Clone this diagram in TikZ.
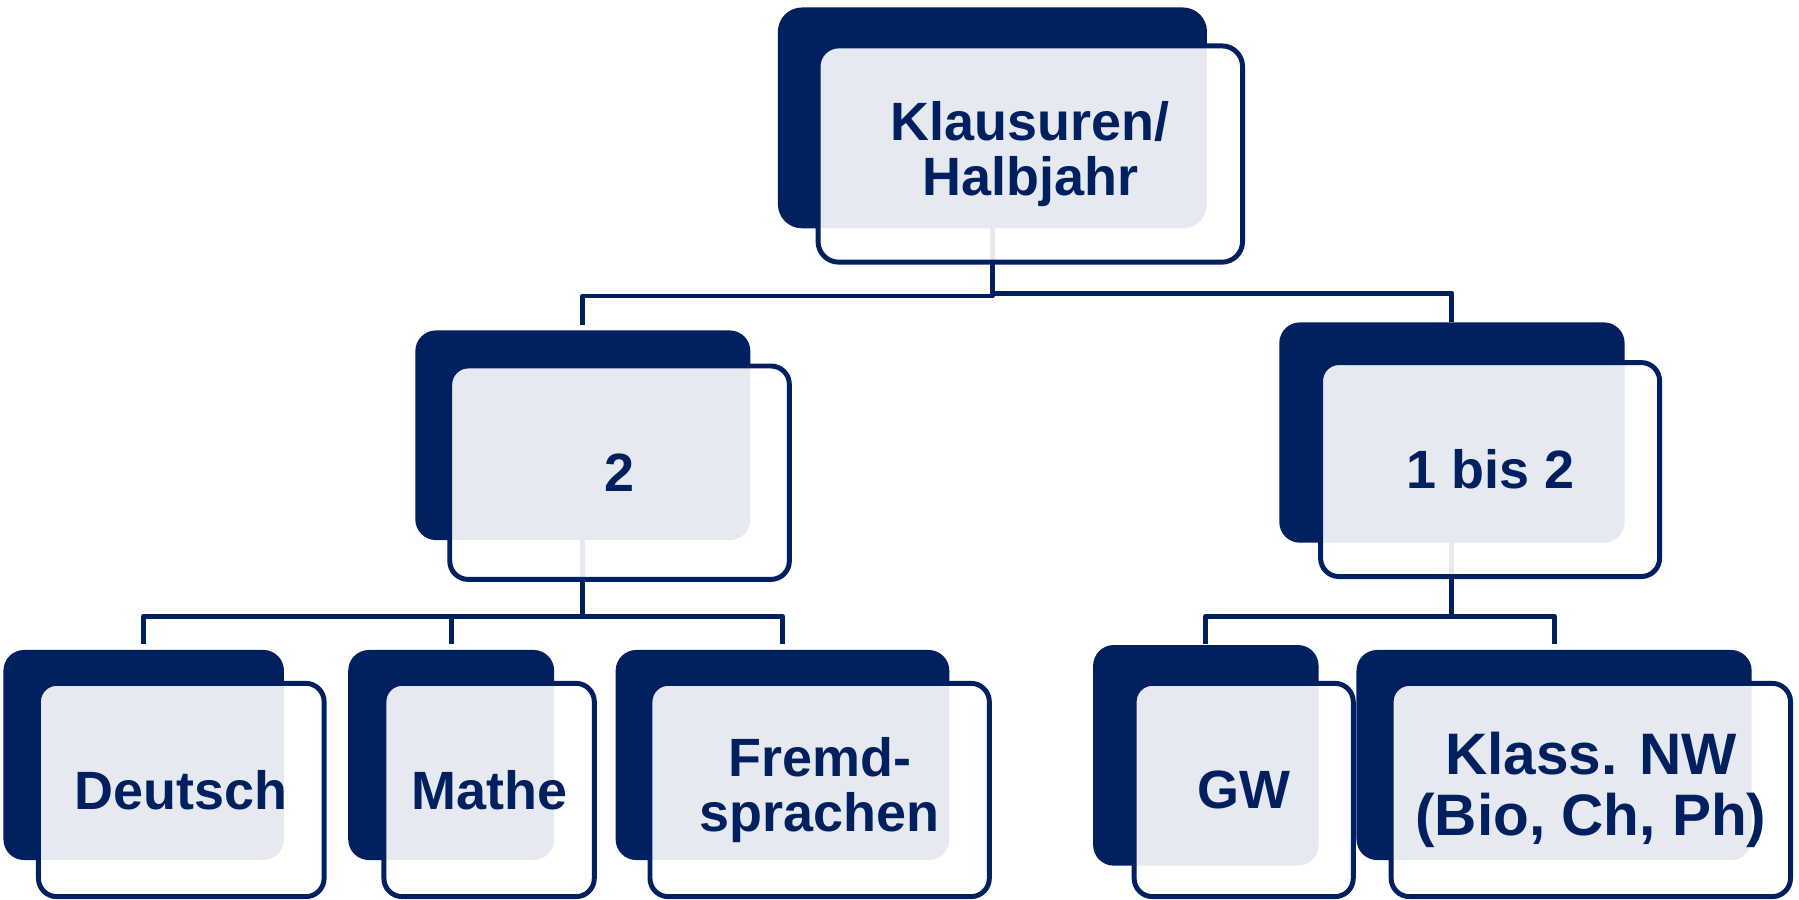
\documentclass[tikz,border=0pt]{standalone}
\usepackage{fontspec}
\setmainfont{Liberation Sans}
\definecolor{navy}{RGB}{0,32,96}
\newcommand\boxfont{\fontsize{47}{48.5}\selectfont\bfseries}
\newcommand\bigboxfont{\fontsize{51}{53}\selectfont\bfseries}
\begin{document}
\begin{tikzpicture}[x=1pt,y=-1pt,
  dark/.style={fill=navy, rounded corners=18pt, inner sep=0pt, outer sep=0pt},
  front/.style={draw=navy, line width=4.3pt, fill=white, fill opacity=0.9, text opacity=1,
    rounded corners=16pt, inner sep=0pt, outer sep=0pt, text=navy, align=center, font=\boxfont},
  conn/.style={draw=navy, line width=4.3pt, line join=round}]
\fill[white] (0,0) rectangle (1568,784);
\useasboundingbox (0,0) rectangle (1568,784);

% helper coordinates for connector levels
\coordinate (b1l) at (0,258);
\coordinate (b1r) at (0,255.5);
\coordinate (b2) at (0,537);
\coordinate (e3) at (0,561);

% dark back plates (positions only; drawn after connectors)
\path (865,102.75) coordinate (topC);
\path (508,379.35) coordinate (twoC);
\path (1265.5,377) coordinate (oneC);
\path (125.25,658.05) coordinate (deuC);
\path (393.25,658.05) coordinate (matC);
\path (682,658.05) coordinate (freC);
\path (1051,658.35) coordinate (gwC);
\path (1354.5,658.05) coordinate (klaC);

% connectors (behind the boxes)
\draw[conn] (topC) -- (topC |- b1l) -- (twoC |- b1l) -- ([yshift=5pt]twoC |- 0,288);
\draw[conn] (topC |- b1r) -- (oneC |- b1r) -- (oneC |- 0,281);
\draw[conn] (twoC) -- (twoC |- b2);
\draw[conn] (deuC |- e3) -- (deuC |- b2) -- (freC |- b2) -- (freC |- e3);
\draw[conn] (matC |- b2) -- (matC |- e3);
\draw[conn] (oneC) -- (oneC |- b2);
\draw[conn] (gwC |- e3) -- (gwC |- b2) -- (klaC |- b2) -- (klaC |- e3);

% top
\node[dark, rounded corners=21pt, minimum width=374pt, minimum height=192.5pt] (topD) at (topC) {};
\node[front, rounded corners=18pt, minimum width=370pt, minimum height=188.5pt] (topF) at (898,134.25) {Klausuren/\\Halbjahr};
% level 2
\node[dark, minimum width=292pt, minimum height=182.7pt] (twoD) at (twoC) {};
\node[front, minimum width=296pt, minimum height=186pt] (twoF) at (540,412) {2};
\node[dark, minimum width=301pt, minimum height=192pt] (oneD) at (oneC) {};
\node[front, minimum width=295.5pt, minimum height=186.5pt] (oneF) at (1298.75,409.25) {1 bis 2};
% level 3
\node[dark, minimum width=244.5pt, minimum height=183.1pt] (deuD) at (deuC) {};
\node[front, minimum width=249pt, minimum height=185.9pt] (deuF) at (158,688.55) {Deutsch};
\node[dark, minimum width=179.5pt, minimum height=183.1pt] (matD) at (matC) {};
\node[front, minimum width=183.4pt, minimum height=185.9pt] (matF) at (426.3,688.55) {Mathe};
\node[dark, minimum width=290.8pt, minimum height=183.1pt] (freD) at (freC) {};
\node[front, minimum width=295.8pt, minimum height=185.9pt] (freF) at (714.4,688.55) {Fremd-\\sprachen};
\node[dark, minimum width=196.5pt, minimum height=192.3pt] (gwD) at (gwC) {};
\node[front, minimum width=191pt, minimum height=185.9pt] (gwF) at (1084,688.55) {GW};
\node[dark, minimum width=344.4pt, minimum height=183.1pt] (klaD) at (klaC) {};
\node[front, font=\bigboxfont, minimum width=348.1pt, minimum height=185.9pt] (klaF) at (1386.55,688.55) {Klass. NW\\(Bio, Ch, Ph)};
\end{tikzpicture}
\end{document}
